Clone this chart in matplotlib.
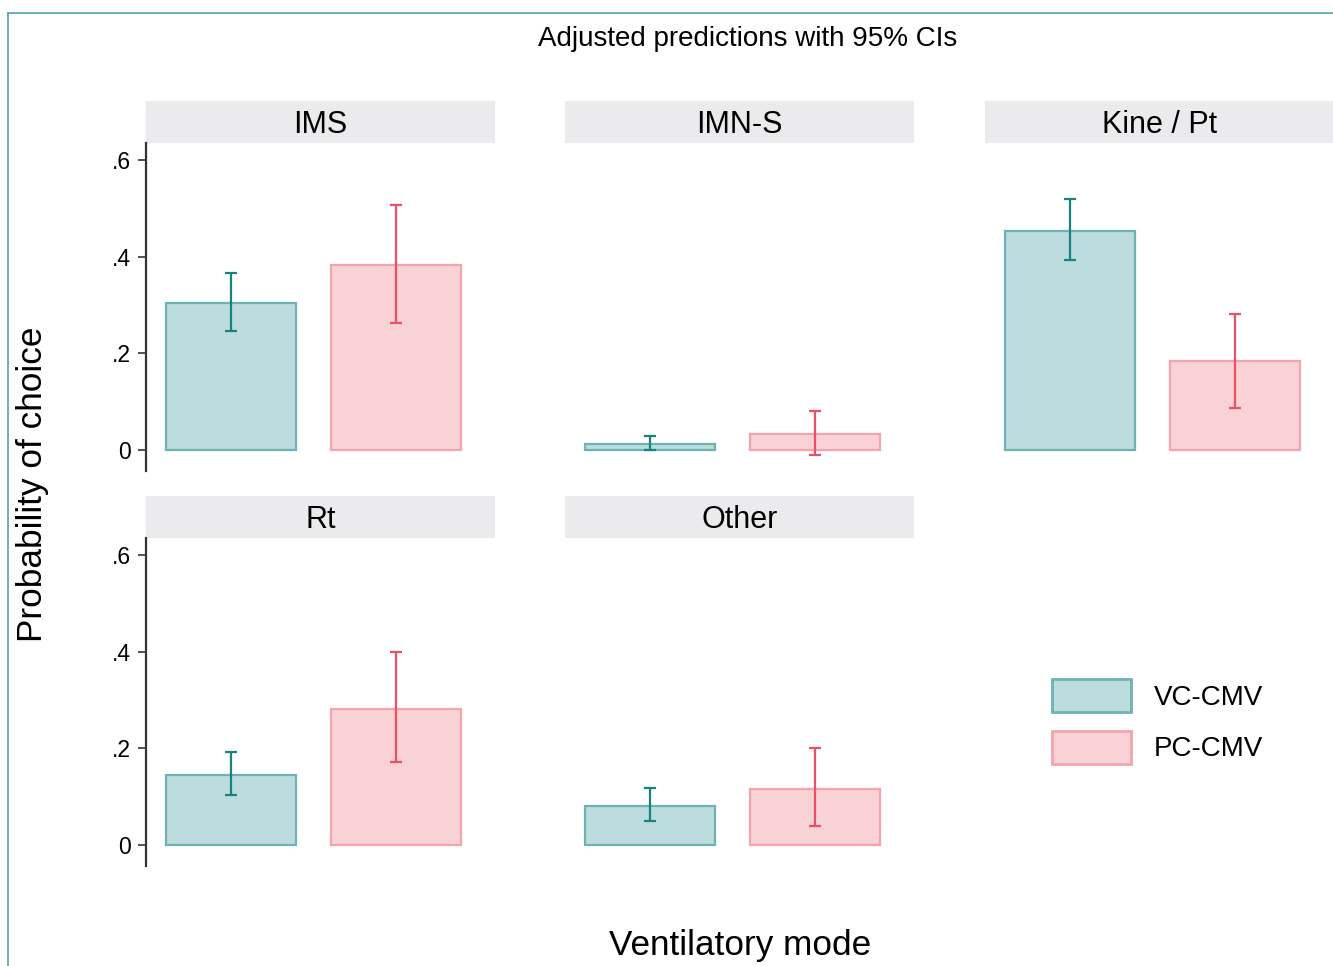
import matplotlib
matplotlib.use("Agg")
import matplotlib.pyplot as plt
from matplotlib.patches import Rectangle, Patch
from matplotlib.lines import Line2D

plt.rcParams['font.family'] = ['Liberation Sans', 'DejaVu Sans']

# Adjusted predictions (probability of choice) with 95% CIs
modes = ['IMS', 'IMN-S', 'Kine / Pt', 'Rt', 'Other']
groups = ['VC-CMV', 'PC-CMV']
vc_mean = [0.303, 0.011, 0.452, 0.145, 0.081]
vc_lo = [0.245, 0.000, 0.392, 0.102, 0.050]
vc_hi = [0.365, 0.029, 0.519, 0.193, 0.118]
pc_mean = [0.382, 0.033, 0.183, 0.282, 0.116]
pc_lo = [0.262, -0.010, 0.087, 0.172, 0.039]
pc_hi = [0.507, 0.080, 0.282, 0.399, 0.201]
yticks = [0, 0.2, 0.4, 0.6]
ytick_labels = ['0', '.2', '.4', '.6']

vc_fill, vc_edge, vc_err = '#bcdcdd', '#6db3b3', '#17837f'
pc_fill, pc_edge, pc_err = '#f9d2d5', '#f4a4ab', '#ec5066'
strip_col = '#ebebed'

W, H = 1333, 966
fig = plt.figure(figsize=(W / 100, H / 100), dpi=100)

# panel positions in pixels: (left, top)
col_left = [146, 565, 985]
row_top = [143, 538]
pw, ph = 349, 328

for i, mode in enumerate(modes):
    r, c = divmod(i, 3)
    ax = fig.add_axes([col_left[c] / W, 1 - (row_top[r] + ph) / H, pw / W, ph / H])
    means = [vc_mean[i], pc_mean[i]]
    lo = [vc_lo[i], pc_lo[i]]
    hi = [vc_hi[i], pc_hi[i]]
    fills = [vc_fill, pc_fill]
    edges = [vc_edge, pc_edge]
    errs = [vc_err, pc_err]
    for j in range(2):
        ax.bar(j, means[j], width=0.79, color=fills[j], edgecolor=edges[j], linewidth=1.6)
        ax.errorbar(j, means[j], yerr=[[means[j] - lo[j]], [hi[j] - means[j]]],
                    fmt='none', ecolor=errs[j], elinewidth=1.6, capsize=4, capthick=1.6)
    ax.set_xlim(-0.515, 1.6)
    ax.set_ylim(-0.044, 0.635)
    ax.set_xticks([])
    for s in ['top', 'right', 'bottom']:
        ax.spines[s].set_visible(False)
    if c == 0:
        ax.spines['left'].set_color('#333333')
        ax.spines['left'].set_linewidth(1.6)
        ax.set_yticks(yticks)
        ax.set_yticklabels(ytick_labels)
        ax.tick_params(axis='y', length=6, width=1.2, color='#333333', pad=5, labelsize=16.5)
    else:
        ax.spines['left'].set_visible(False)
        ax.set_yticks([])
    # strip header
    sh = 42 / ph
    ax.add_patch(Rectangle((0, 1.0), 1, sh, transform=ax.transAxes, color=strip_col,
                           clip_on=False, linewidth=0))
    ax.text(0.5, 1.0 + sh / 2 - 3 / ph, mode, transform=ax.transAxes, ha='center',
            va='center', fontsize=22)

fig.text(748 / W, 1 - 39 / H, 'Adjusted predictions with 95% CIs', ha='center', va='center',
         fontsize=20)
fig.text(33 / W, 1 - 484 / H, 'Probability of choice', rotation=90, ha='center', va='center',
         fontsize=25.3)
fig.text(740 / W, 1 - 945 / H, 'Ventilatory mode', ha='center', va='center', fontsize=25.3)

handles = [Patch(facecolor=vc_fill, edgecolor=vc_edge, linewidth=2),
           Patch(facecolor=pc_fill, edgecolor=pc_edge, linewidth=2)]
fig.legend(handles, groups, loc='upper left', bbox_to_anchor=(1052 / W, 1 - 679 / H),
           frameon=False, fontsize=20, handlelength=2.85, handleheight=1.45,
           labelspacing=0.67, handletextpad=0.8, borderpad=0, borderaxespad=0)

# outer frame
fig.add_artist(Line2D([8 / W, 1], [1 - 13 / H, 1 - 13 / H], transform=fig.transFigure,
                      color='#5a9fae', linewidth=1.2))
fig.add_artist(Line2D([8 / W, 8 / W], [0, 1 - 13 / H], transform=fig.transFigure,
                      color='#5a9fae', linewidth=1.2))

fig.savefig('out.png', dpi=100, facecolor='white')
